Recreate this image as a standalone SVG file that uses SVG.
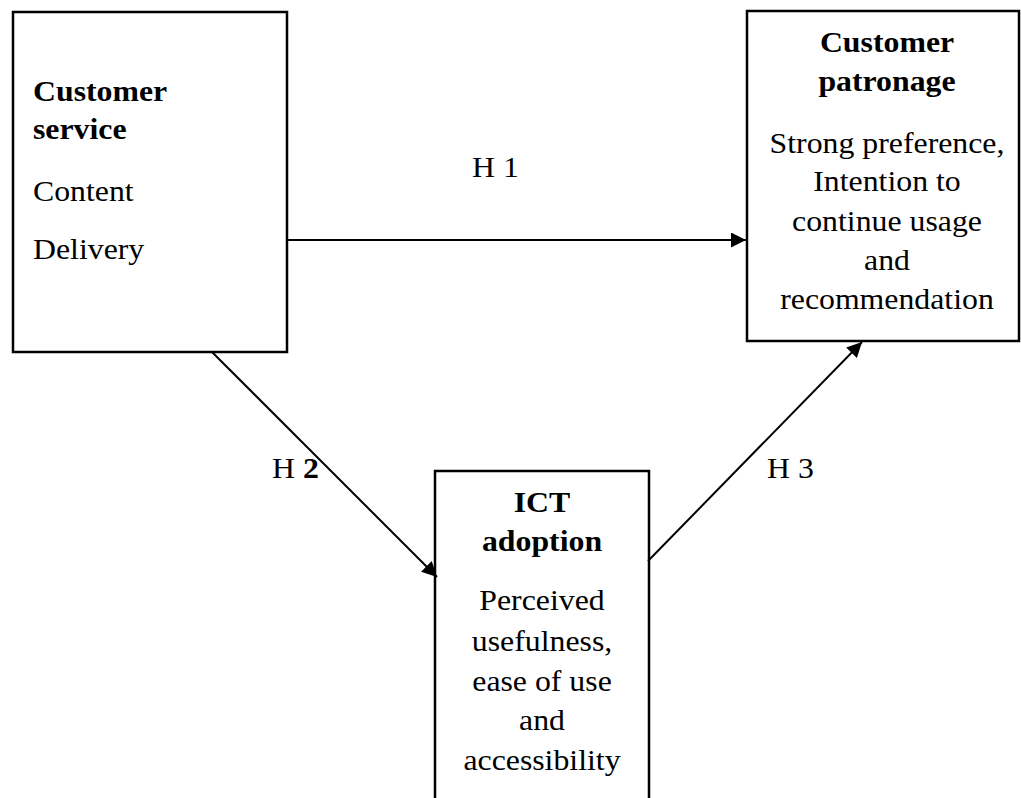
<svg xmlns="http://www.w3.org/2000/svg" width="1021" height="798" viewBox="0 0 1021 798">
  <style>
    .box { fill: #ffffff; stroke: #000000; stroke-width: 2.5; }
    .t { font-family: "Liberation Serif", "Times New Roman", serif; font-size: 30px; fill: #000000; }
    .b { font-weight: bold; }
    .c { text-anchor: middle; }
    .edge { stroke: #000000; stroke-width: 2; fill: none; marker-end: url(#arrow); }
  </style>
  <defs>
    <marker id="arrow" markerUnits="userSpaceOnUse" markerWidth="16" markerHeight="16" refX="15" refY="7.5" orient="auto">
      <path d="M0,0 L15,7.5 L0,15 z" fill="#000000"/>
    </marker>
  </defs>
  <rect x="0" y="0" width="1021" height="798" fill="#ffffff"/>

  <g id="node-customer-service">
    <rect class="box" x="13" y="12" width="274" height="340"/>
    <text class="t b" transform="translate(33 101) scale(1.06 1)">Customer</text>
    <text class="t b" transform="translate(33 139) scale(1.06 1)">service</text>
    <text class="t" transform="translate(33 201) scale(1.06 1)">Content</text>
    <text class="t" transform="translate(33 259) scale(1.06 1)">Delivery</text>
  </g>

  <g id="node-customer-patronage">
    <rect class="box" x="747" y="11" width="272" height="330"/>
    <text class="t b c" transform="translate(887 52) scale(1.06 1)">Customer</text>
    <text class="t b c" transform="translate(887 91) scale(1.06 1)">patronage</text>
    <text class="t c" transform="translate(887 153) scale(1.06 1)">Strong preference,</text>
    <text class="t c" transform="translate(887 191) scale(1.06 1)">Intention to</text>
    <text class="t c" transform="translate(887 231) scale(1.06 1)">continue usage</text>
    <text class="t c" transform="translate(887 270) scale(1.06 1)">and</text>
    <text class="t c" transform="translate(887 309) scale(1.06 1)">recommendation</text>
  </g>

  <g id="node-ict-adoption">
    <rect class="box" x="435" y="471" width="214" height="360"/>
    <text class="t b c" transform="translate(542 512) scale(1.06 1)">ICT</text>
    <text class="t b c" transform="translate(542 551) scale(1.06 1)">adoption</text>
    <text class="t c" transform="translate(542 610) scale(1.06 1)">Perceived</text>
    <text class="t c" transform="translate(542 651) scale(1.06 1)">usefulness,</text>
    <text class="t c" transform="translate(542 691) scale(1.06 1)">ease of use</text>
    <text class="t c" transform="translate(542 730) scale(1.06 1)">and</text>
    <text class="t c" transform="translate(542 770) scale(1.06 1)">accessibility</text>
  </g>

  <g id="connectors">
    <line class="edge" x1="288" y1="240" x2="746" y2="240"/>
    <line class="edge" x1="212" y1="352" x2="437" y2="577"/>
    <line class="edge" x1="648" y1="561" x2="862" y2="342"/>
  </g>

  <g id="labels">
    <text class="t" transform="translate(472 177) scale(1.06 1)">H 1</text>
    <text class="t" transform="translate(272 478) scale(1.06 1)">H <tspan class="b">2</tspan></text>
    <text class="t" transform="translate(767 478) scale(1.06 1)">H 3</text>
  </g>
</svg>
